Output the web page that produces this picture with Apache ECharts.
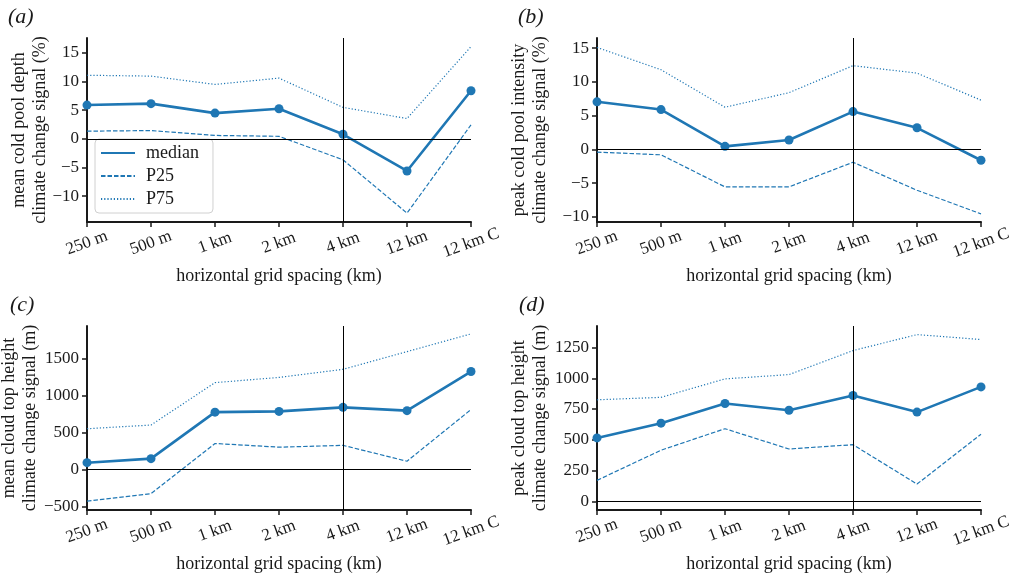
<!DOCTYPE html>
<html>
<head>
<meta charset="utf-8">
<script src="https://cdn.jsdelivr.net/npm/echarts@6/dist/echarts.min.js"></script>
<style>
  html, body { margin: 0; padding: 0; background: #fff; }
  #chart { width: 1022px; height: 577px; }
</style>
</head>
<body>
<div id="chart"></div>
<script>
// Grid spacings of the simulations (x axis of every panel)
const categories = ['250 m', '500 m', '1 km', '2 km', '4 km', '12 km', '12 km C'];

// (a) mean cold pool depth signal (%)
const depthMedian = [5.9, 6.15, 4.5, 5.25, 0.8, -5.6, 8.4];
const depthP25 = [1.35, 1.45, 0.6, 0.45, -3.65, -12.95, 2.45];
const depthP75 = [11.1, 10.95, 9.5, 10.6, 5.5, 3.55, 16.1];

// (b) peak cold pool intensity signal (%)
const intensityMedian = [7.05, 5.9, 0.45, 1.4, 5.6, 3.2, -1.6];
const intensityP25 = [-0.4, -0.8, -5.55, -5.55, -1.9, -6.05, -9.55];
const intensityP75 = [15.1, 11.8, 6.25, 8.4, 12.4, 11.3, 7.3];

// (c) mean cloud top height signal (m)
const meanTopMedian = [95, 150, 780, 790, 845, 800, 1330];
const meanTopP25 = [-425, -325, 355, 305, 330, 115, 815];
const meanTopP75 = [555, 605, 1180, 1250, 1360, 1600, 1840];

// (d) peak cloud top height signal (m)
const peakTopMedian = [515, 635, 795, 740, 860, 725, 930];
const peakTopP25 = [170, 415, 590, 425, 460, 140, 545];
const peakTopP75 = [825, 845, 995, 1030, 1225, 1355, 1315];

// y tick labels per panel
const ticksDepth = [-10, -5, 0, 5, 10, 15];
const ticksIntensity = [-10, -5, 0, 5, 10, 15];
const ticksMeanTop = [-500, 0, 500, 1000, 1500];
const ticksPeakTop = [0, 250, 500, 750, 1000, 1250];

const FONT = "'Liberation Serif', 'DejaVu Serif', serif";
const BLUE = '#1f77b4';
const INK = '#1a1a1a';

const panels = [
  { tag: '(a)', yName: 'mean cold pool depth\nclimate change signal (%)',
    median: depthMedian, p25: depthP25, p75: depthP75, ticks: ticksDepth,
    min: -14.5, max: 17.6, left: 87, top: 38, nameGap: 57, tagX: 8, tagY: 6 },
  { tag: '(b)', yName: 'peak cold pool intensity\nclimate change signal (%)',
    median: intensityMedian, p25: intensityP25, p75: intensityP75, ticks: ticksIntensity,
    min: -10.75, max: 16.5, left: 597, top: 38, nameGap: 67, tagX: 518, tagY: 6 },
  { tag: '(c)', yName: 'mean cloud top height\nclimate change signal (m)',
    median: meanTopMedian, p25: meanTopP25, p75: meanTopP75, ticks: ticksMeanTop,
    min: -546, max: 1947, left: 87, top: 326, nameGap: 67, tagX: 10, tagY: 294 },
  { tag: '(d)', yName: 'peak cloud top height\nclimate change signal (m)',
    median: peakTopMedian, p25: peakTopP25, p75: peakTopP75, ticks: ticksPeakTop,
    min: -71, max: 1425, left: 597, top: 326, nameGap: 67, tagX: 519, tagY: 294 }
];

const PLOT_W = 384, PLOT_H = 184;
const fmt = v => String(v).replace('-', '\u2212');

const option = {
  animation: false,
  backgroundColor: '#fff',
  textStyle: { fontFamily: FONT },
  title: panels.map(p => ({
    text: p.tag, left: p.tagX, top: p.tagY, padding: 0,
    textStyle: { fontFamily: FONT, fontSize: 22, fontStyle: 'italic', fontWeight: 'normal', color: INK }
  })),
  legend: {
    data: ['median', 'P25', 'P75'],
    orient: 'vertical', left: 95, top: 139,
    itemWidth: 34, itemHeight: 14, itemGap: 5,
    padding: [5, 14, 5, 5],
    borderColor: '#d0d0d0', borderWidth: 1, borderRadius: 4,
    backgroundColor: 'rgba(255,255,255,0.8)',
    itemStyle: { opacity: 0 },
    textStyle: { fontFamily: FONT, fontSize: 18, color: INK, padding: [0, 0, 0, 6] },
    selectedMode: false
  },
  grid: panels.map(p => ({
    left: p.left, top: p.top, width: PLOT_W, height: PLOT_H, outerBoundsMode: 'none'
  })),
  xAxis: panels.map((p, i) => ({
    type: 'category', gridIndex: i, data: categories, boundaryGap: false,
    name: 'horizontal grid spacing (km)', nameLocation: 'middle', nameGap: 54,
    nameMoveOverlap: false,
    nameTextStyle: { fontFamily: FONT, fontSize: 18, color: INK, verticalAlign: 'middle' },
    axisLine: { show: true, onZero: false, lineStyle: { color: INK, width: 2 } },
    axisTick: { show: true, inside: false, length: 5, alignWithLabel: true, lineStyle: { color: INK, width: 1.5 } },
    axisLabel: { interval: 0, rotate: 20, align: 'center', verticalAlign: 'middle', margin: 21,
      fontFamily: FONT, fontSize: 17, color: INK },
    splitLine: { show: false }
  })),
  yAxis: panels.map((p, i) => ({
    type: 'value', gridIndex: i, min: p.min, max: p.max,
    name: p.yName, nameLocation: 'middle', nameGap: p.nameGap, nameRotate: 90,
    nameMoveOverlap: false,
    nameTextStyle: { fontFamily: FONT, fontSize: 18, color: INK, lineHeight: 21,
      align: 'center', verticalAlign: 'middle' },
    axisLine: { show: true, onZero: false, lineStyle: { color: INK, width: 2 } },
    axisTick: { show: true, inside: false, length: 5, customValues: p.ticks, lineStyle: { color: INK, width: 1.5 } },
    axisLabel: { customValues: p.ticks, formatter: fmt, margin: 8,
      fontFamily: FONT, fontSize: 17, color: INK },
    splitLine: { show: false }
  })),
  series: []
};

panels.forEach((p, i) => {
  option.series.push({
    name: 'P75', type: 'line', xAxisIndex: i, yAxisIndex: i, data: p.p75,
    symbol: 'none', z: 2,
    lineStyle: { color: BLUE, width: 1.2, type: [1.2, 2] },
    itemStyle: { color: BLUE }
  });
  option.series.push({
    name: 'P25', type: 'line', xAxisIndex: i, yAxisIndex: i, data: p.p25,
    symbol: 'none', z: 2,
    lineStyle: { color: BLUE, width: 1.2, type: [4.5, 2] },
    itemStyle: { color: BLUE },
    markLine: {
      silent: true, symbol: ['none', 'none'], animation: false,
      label: { show: false },
      lineStyle: { color: '#000', width: 1, type: 'solid' },
      emphasis: { disabled: true },
      data: [{ yAxis: 0 }, { xAxis: '4 km' }]
    }
  });
  option.series.push({
    name: 'median', type: 'line', xAxisIndex: i, yAxisIndex: i, data: p.median,
    symbol: 'circle', symbolSize: 9, z: 4,
    lineStyle: { color: BLUE, width: 2.6 },
    itemStyle: { color: BLUE }
  });
});

const chart = echarts.init(document.getElementById('chart'), null, { renderer: 'canvas' });
chart.setOption(option);
</script>
</body>
</html>
